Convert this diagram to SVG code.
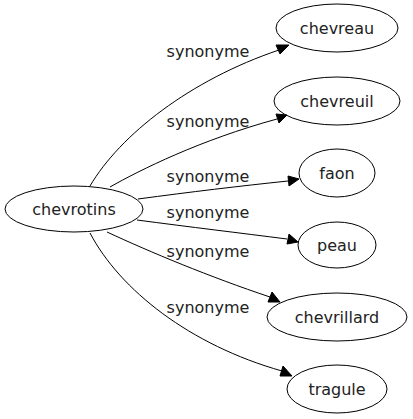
<svg xmlns="http://www.w3.org/2000/svg" width="413" height="419" viewBox="0 0 413 419">
<style>
.n ellipse{fill:none;stroke:#000;stroke-width:1}
text{font-family:"DejaVu Sans",Verdana,sans-serif;font-size:16px;fill:#222;text-anchor:middle}
.e path{fill:none;stroke:#000;stroke-width:1}
.e polygon{fill:#000;stroke:#000;stroke-width:1}
</style>
<rect width="413" height="419" fill="#fff"/>
<g id="edges" class="e">
<path d="M90,186 C120,135 190,80 279,50"/>
<polygon points="289,45 280,54 276,45"/>
<text x="208" y="57">synonyme</text>
<path d="M110,187 C140,170 200,140 277,119"/>
<polygon points="287,115 279,123 276,114"/>
<text x="208" y="127">synonyme</text>
<path d="M138,199 C190,192 240,186 288,181"/>
<polygon points="299,179 289,186 288,176"/>
<text x="208" y="182">synonyme</text>
<path d="M137,220 C190,227 240,233 287,239"/>
<polygon points="298,242 287,244 289,234"/>
<text x="208" y="218">synonyme</text>
<path d="M107,232 C150,252 210,277 270,297"/>
<polygon points="280,302 268,302 272,292"/>
<text x="208" y="257">synonyme</text>
<path d="M90,233 C120,290 190,345 282,371"/>
<polygon points="292,376 280,376 283,366"/>
<text x="208" y="313">synonyme</text>
</g>
<g id="chevrotins" class="n"><ellipse cx="74" cy="209" rx="69" ry="23"/><text x="74" y="215">chevrotins</text></g>
<g id="chevreau" class="n"><ellipse cx="337" cy="28" rx="61" ry="24"/><text x="337" y="34">chevreau</text></g>
<g id="chevreuil" class="n"><ellipse cx="337" cy="101" rx="63" ry="24"/><text x="337" y="107">chevreuil</text></g>
<g id="faon" class="n"><ellipse cx="337" cy="173" rx="38" ry="24"/><text x="337" y="179">faon</text></g>
<g id="peau" class="n"><ellipse cx="337" cy="245" rx="39" ry="23"/><text x="337" y="251">peau</text></g>
<g id="chevrillard" class="n"><ellipse cx="337" cy="317" rx="70" ry="24"/><text x="337" y="323">chevrillard</text></g>
<g id="tragule" class="n"><ellipse cx="337" cy="389" rx="50" ry="24"/><text x="337" y="395">tragule</text></g>
</svg>
